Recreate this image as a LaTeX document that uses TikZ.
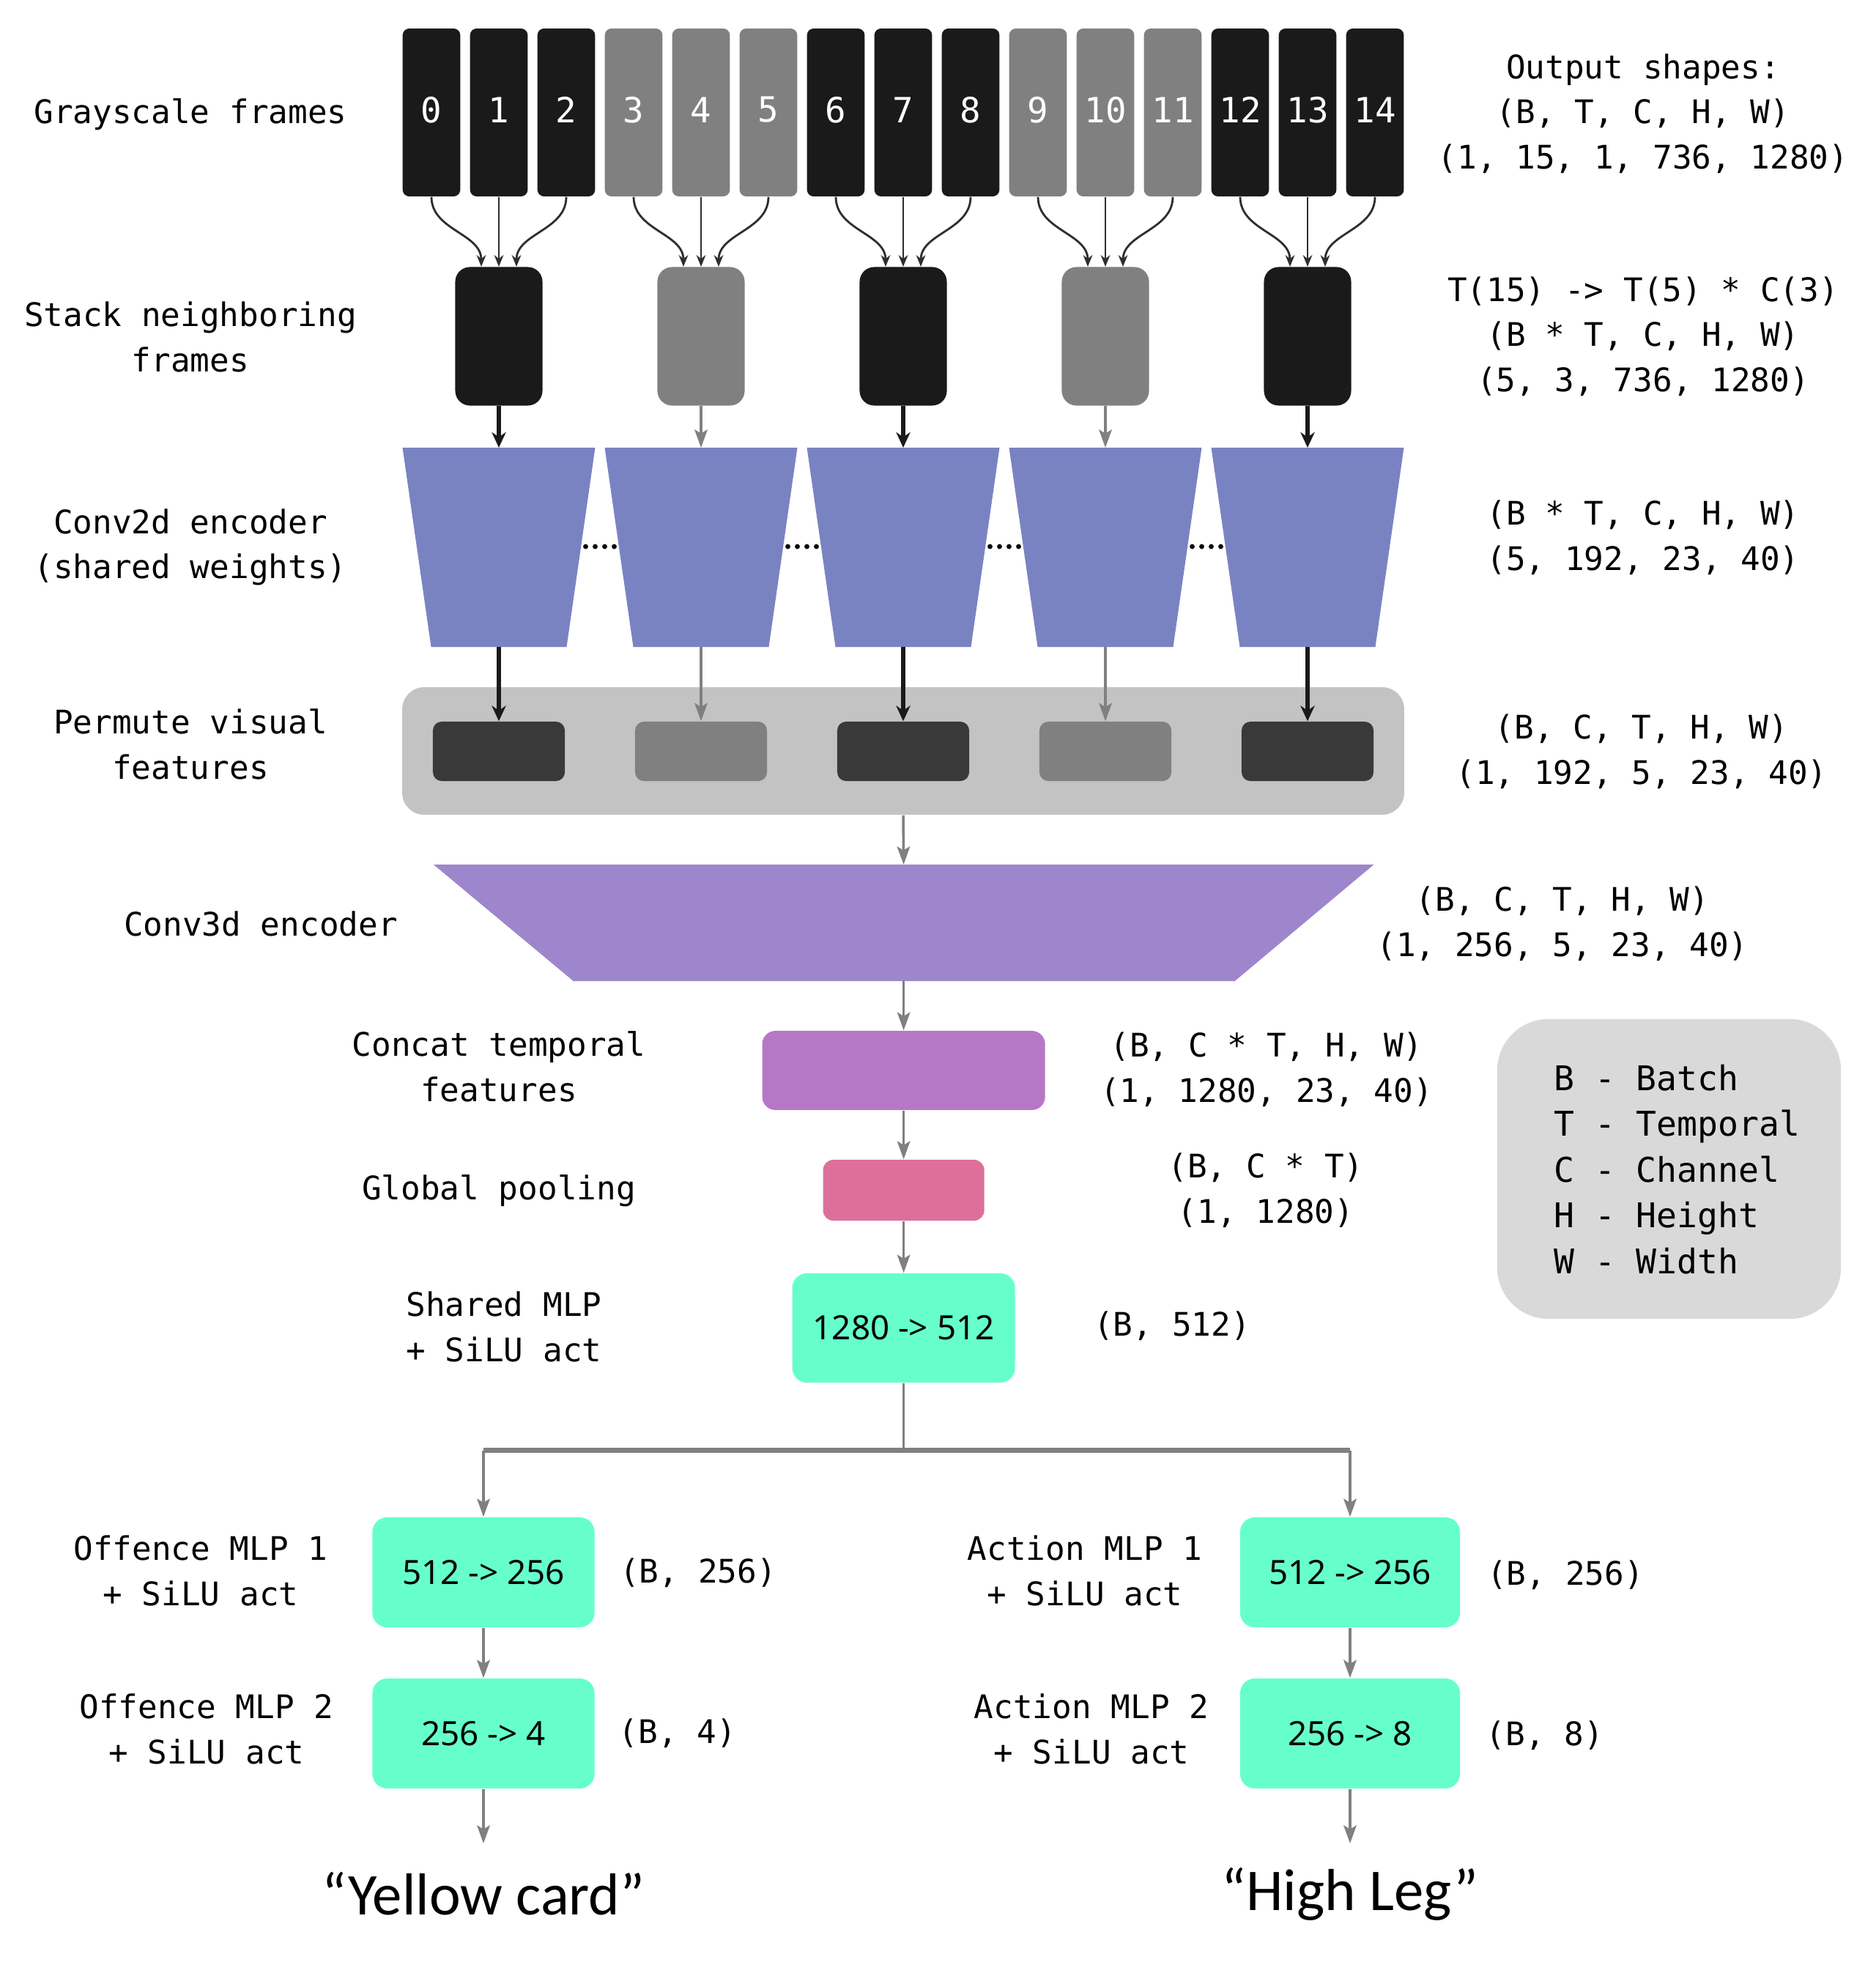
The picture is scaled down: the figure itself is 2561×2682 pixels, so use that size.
\documentclass[tikz,border=0pt]{standalone}
\usepackage{fontspec}
\setmonofont{DejaVu Sans Mono}
\setsansfont{Noto Sans}
\newfontfamily\quotefont{Carlito}
\usetikzlibrary{arrows.meta}
\definecolor{frblack}{HTML}{1A1A1A}
\definecolor{frgray}{HTML}{808080}
\definecolor{curvecol}{HTML}{2E2E2E}
\definecolor{ctwod}{HTML}{7A83C2}
\definecolor{cthreed}{HTML}{9E86CC}
\definecolor{catcol}{HTML}{B678C6}
\definecolor{poolcol}{HTML}{DE6F9C}
\definecolor{mlpcol}{HTML}{66FFCC}
\definecolor{permbg}{HTML}{C3C3C3}
\definecolor{inrdark}{HTML}{393939}
\definecolor{inrgray}{HTML}{808080}
\definecolor{legbg}{HTML}{D9D9D9}
\begin{document}
\begin{tikzpicture}[x=0.01cm,y=-0.01cm,
  lbl/.style={font=\ttfamily\fontsize{12.6}{17.5}\selectfont, align=center, inner sep=0pt, text=black},
  frm/.style={minimum width=0.786cm, minimum height=2.29cm, rounded corners=0.09cm, inner sep=0pt,
     text=white, font=\ttfamily\fontsize{13.5}{16}\selectfont},
  stk/.style={minimum width=1.19cm, minimum height=1.89cm, rounded corners=0.2cm, inner sep=0pt},
  inr/.style={minimum width=1.80cm, minimum height=0.81cm, rounded corners=0.12cm, inner sep=0pt},
  mlpbox/.style={fill=mlpcol, minimum width=3.03cm, minimum height=1.50cm, rounded corners=0.2cm,
     inner sep=0pt, font=\sffamily\fontsize{13}{16}\selectfont},
  curv/.style={draw=curvecol, line width=0.8pt, -{Stealth[length=4.5pt,width=3.6pt]}},
  barrow/.style={draw=frblack, line width=1.5pt, -{Stealth[length=6pt,width=5.5pt]}},
  garrow/.style={draw=frgray, line width=1pt, -{Stealth[length=7pt,width=5pt,inset=1.5pt]}},
  gline/.style={draw=frgray, line width=1pt},
  quote/.style={font=\quotefont\fontsize{23}{28}\selectfont, inner sep=0pt}
]
\useasboundingbox (0,0) rectangle (2561,2682);

% frames
\foreach \k/\c in {0/frblack,1/frblack,2/frblack,3/frgray,4/frgray,5/frgray,6/frblack,7/frblack,8/frblack,9/frgray,10/frgray,11/frgray,12/frblack,13/frblack,14/frblack}{
  \node[frm, fill=\c] (f\k) at ({589+92*\k},153.5) {};
  \node[text=white, font=\ttfamily\fontsize{13.5}{16}\selectfont, inner sep=0pt] (fn\k) at ({589+92*\k},150) {\k};
}

% stacked boxes + curves
\foreach \j/\c in {0/frblack,1/frgray,2/frblack,3/frgray,4/frblack}{
  \node[stk, fill=\c] (s\j) at ({681+276*\j},459) {};
  \pgfmathtruncatemacro\fa{3*\j}
  \pgfmathtruncatemacro\fb{3*\j+1}
  \pgfmathtruncatemacro\fc{3*\j+2}
  \coordinate (sl\j) at ({681+276*\j-24},364);
  \coordinate (sm\j) at ({681+276*\j},364);
  \coordinate (sr\j) at ({681+276*\j+24},364);
  \draw[curv] (f\fa.south) to[out=-90,in=90] (sl\j);
  \draw[curv] (f\fb.south) -- (sm\j);
  \draw[curv] (f\fc.south) to[out=-90,in=90] (sr\j);
}

% conv2d trapezoids
\foreach \j in {0,...,4}{
  \fill[ctwod] ({681+276*\j-131.5},611) -- ({681+276*\j+131.5},611) -- ({681+276*\j+92.5},883) -- ({681+276*\j-92.5},883) -- cycle;
  \coordinate (tt\j) at ({681+276*\j},611);
  \coordinate (tb\j) at ({681+276*\j},883);
}
% dots between trapezoids
\foreach \j in {0,...,3}{
  \foreach \d in {-19.5,-6.5,6.5,19.5}
    \fill[black] ({819+276*\j+\d},746) circle (0.034cm);
}

% permute container
\node[fill=permbg, minimum width=13.67cm, minimum height=1.74cm, rounded corners=0.3cm, inner sep=0pt] (perm) at (1233,1025) {};
\foreach \j/\c in {0/inrdark,1/inrgray,2/inrdark,3/inrgray,4/inrdark}
  \node[inr, fill=\c] (p\j) at ({681+276*\j},1025.5) {};

% arrows stack->trap->inner
\foreach \j/\st in {0/barrow,1/garrow,2/barrow,3/garrow,4/barrow}{
  \draw[\st] (s\j.south) -- (tt\j);
  \draw[\st] (tb\j) -- (p\j.north);
}

% conv3d
\fill[cthreed] (591.8,1180) -- (1875.5,1180) -- (1685.7,1339) -- (782.7,1339) -- cycle;
\coordinate (c3top) at (1233.6,1180);
\coordinate (c3bot) at (1233.6,1339);
\draw[garrow] (perm.south) -- (c3top);

\node[fill=catcol, minimum width=3.86cm, minimum height=1.08cm, rounded corners=0.18cm, inner sep=0pt] (cat) at (1233.6,1461) {};
\node[fill=poolcol, minimum width=2.20cm, minimum height=0.83cm, rounded corners=0.14cm, inner sep=0pt] (pool) at (1233.6,1624.5) {};
\node[mlpbox, minimum width=3.04cm, minimum height=1.49cm] (mlp) at (1233.6,1812.5) {1280 -> 512};
\draw[garrow] (c3bot) -- (cat.north);
\draw[garrow] (cat.south) -- (pool.north);
\draw[garrow] (pool.south) -- (mlp.north);

% heads
\node[mlpbox] (o1) at (660,2146) {512 -> 256};
\node[mlpbox] (o2) at (660,2366) {256 -> 4};
\node[mlpbox, minimum width=3.0cm] (a1) at (1843,2146) {512 -> 256};
\node[mlpbox, minimum width=3.0cm] (a2) at (1843,2366) {256 -> 8};

\coordinate (br) at (1233.6,1979.5);
\coordinate (brl) at (660,1979.5);
\coordinate (brr) at (1843,1979.5);
\draw[gline] (mlp.south) -- (br);
\draw[gline, line width=2.2pt] (brl) -- (brr);
\draw[garrow] (brl) -- (o1.north);
\draw[garrow] (brr) -- (a1.north);
\draw[garrow] (o1.south) -- (o2.north);
\draw[garrow] (a1.south) -- (a2.north);
\coordinate (oout) at (660,2516);
\coordinate (aout) at (1843,2516);
\draw[garrow] (o2.south) -- (oout);
\draw[garrow] (a2.south) -- (aout);
\node[quote] (yc) at (660,2585) {“Yellow card”};
\node[quote] (hl) at (1843,2585) {“High Leg”};

% legend
\node[fill=legbg, minimum width=4.69cm, minimum height=4.09cm, rounded corners=0.7cm, inner sep=0pt] (leg) at (2278.5,1595.5) {};
\node[lbl, font=\ttfamily\fontsize{13.2}{17.8}\selectfont, align=left, anchor=west] (legt) at (2121,1596) {B - Batch\\T - Temporal\\C - Channel\\H - Height\\W - Width};

% left labels
\node[lbl] (gl1) at (260,156) {Grayscale frames};
\node[lbl] (gl2) at (260,460) {Stack neighboring\\frames};
\node[lbl] (gl3) at (260,747) {Conv2d encoder\\(shared weights)};
\node[lbl] (gl4) at (260,1016) {Permute visual\\features};
\node[lbl] (gl5) at (356,1261) {Conv3d encoder};
\node[lbl] (gl6) at (681,1456) {Concat temporal\\features};
\node[lbl] (gl7) at (681,1625) {Global pooling};
\node[lbl] (gl8) at (688,1811) {Shared MLP\\+ SiLU act};
\node[lbl] (gl9) at (274,2144) {Offence MLP 1\\+ SiLU act};
\node[lbl] (gl10) at (282,2360) {Offence MLP 2\\+ SiLU act};
\node[lbl] (gl11) at (1481,2144) {Action MLP 1\\+ SiLU act};
\node[lbl] (gl12) at (1490,2360) {Action MLP 2\\+ SiLU act};

% right labels
\node[lbl] (r1) at (2243,155) {Output shapes:\\(B, T, C, H, W)\\(1, 15, 1, 736, 1280)};
\node[lbl] (r2) at (2243,459) {T(15) -> T(5) * C(3)\\(B * T, C, H, W)\\(5, 3, 736, 1280)};
\node[lbl] (r3) at (2243,734) {(B * T, C, H, W)\\(5, 192, 23, 40)};
\node[lbl] (r4) at (2241,1026) {(B, C, T, H, W)\\(1, 192, 5, 23, 40)};
\node[lbl] (r5) at (2133,1261) {(B, C, T, H, W)\\(1, 256, 5, 23, 40)};
\node[lbl] (r6) at (1729,1460) {(B, C * T, H, W)\\(1, 1280, 23, 40)};
\node[lbl] (r7) at (1728,1625) {(B, C * T)\\(1, 1280)};
\node[lbl] (r8) at (1600,1810) {(B, 512)};
\node[lbl] (r9) at (953,2147) {(B, 256)};
\node[lbl] (r10) at (925,2366) {(B, 4)};
\node[lbl] (r11) at (2137,2150) {(B, 256)};
\node[lbl] (r12) at (2109,2369) {(B, 8)};
\end{tikzpicture}
\end{document}
